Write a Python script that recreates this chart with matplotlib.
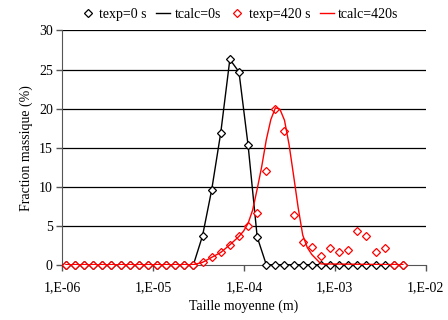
import matplotlib
matplotlib.use("Agg")
import matplotlib.pyplot as plt
from matplotlib.ticker import FixedLocator, FixedFormatter, NullLocator

plt.rcParams['font.family'] = ['Liberation Serif', 'DejaVu Serif']

# Particle sizes (m), sieve-like series
sizes = [1.09e-6, 1.373e-6, 1.730e-6, 2.18e-6, 2.747e-6, 3.461e-6, 4.36e-6, 5.493e-6,
         6.921e-6, 8.72e-6, 1.099e-5, 1.384e-5, 1.744e-5, 2.198e-5, 2.769e-5, 3.488e-5,
         4.395e-5, 5.538e-5, 6.976e-5, 8.79e-5, 1.108e-4, 1.396e-4, 1.758e-4, 2.216e-4,
         2.790e-4, 3.516e-4, 4.430e-4, 5.582e-4, 7.032e-4, 8.860e-4, 1.116e-3, 1.406e-3,
         1.772e-3, 2.232e-3, 2.812e-3, 3.544e-3, 4.465e-3, 5.626e-3]

texp0 = [0, 0, 0, 0, 0, 0, 0, 0, 0, 0, 0, 0, 0, 0, 0, 3.7, 9.55, 16.9, 26.3, 24.7,
         15.3, 3.55, 0, 0, 0, 0, 0, 0, 0, 0, 0, 0, 0, 0, 0, 0, 0, 0]
tcalc0 = [0, 0, 0, 0, 0, 0, 0, 0, 0, 0, 0, 0, 0, 0, 0, 3.7, 9.55, 16.9, 26.3, 24.7,
          15.3, 3.55, 0, 0, 0, 0, 0, 0, 0, 0, 0, 0, 0, 0, 0, 0, 0, 0]

texp420 = [0, 0, 0, 0, 0, 0, 0, 0, 0, 0, 0, 0, 0, 0, 0, 0.3, 0.94, 1.57, 2.55, 3.62,
           4.94, 6.64, 12.0, 20.0, 17.1, 6.34, 2.94, 2.3, 1.15, 2.13, 1.66, 1.83,
           4.34, 3.7, 1.57, 2.09, 0, 0]

# calculated curve (read at finer size steps)
calc420_sizes = [1.09e-6, 2.769e-5, 3.488e-5, 4.395e-5, 5.538e-5, 6.976e-5, 8.79e-5,
                 9.87e-5, 1.108e-4, 1.244e-4, 1.396e-4, 1.567e-4, 1.758e-4, 1.974e-4,
                 2.216e-4, 2.487e-4, 2.790e-4, 3.132e-4, 3.516e-4, 3.946e-4, 4.430e-4,
                 4.972e-4, 5.582e-4, 6.265e-4, 7.032e-4, 5.626e-3]
tcalc420 = [0, 0, 0.3, 0.94, 1.57, 2.55, 3.62,
            4.3, 5.3, 7.0, 9.7, 12.6, 16.0, 18.6,
            20.1, 19.9, 18.5, 15.4, 11.4, 7.3, 3.8,
            2.2, 1.3, 0.7, 0.1, 0]

legend_labels = ["texp=0 s", "tcalc=0s", "texp=420 s", "tcalc=420s"]
xtick_vals = [1e-6, 1e-5, 1e-4, 1e-3, 1e-2]
xtick_labels = ["1,E-06", "1,E-05", "1,E-04", "1,E-03", "1,E-02"]
ytick_vals = [0, 5, 10, 15, 20, 25, 30]

fig = plt.figure(figsize=(4.48, 3.2), dpi=100)
ax = fig.add_axes([0.1395, 0.1728, 0.8105, 0.7319])

ax.set_xscale('log')
ax.set_xlim(1e-6, 1e-2)
ax.set_ylim(0, 30)

for y in ytick_vals[1:]:
    ax.axhline(y, color='black', lw=0.9, zorder=1)

mk = dict(marker='D', markersize=4.5, markerfacecolor='white', markeredgewidth=0.9,
          linestyle='none', clip_on=False)
h1, = ax.plot(sizes, texp0, color='black', zorder=3, **mk)
h2, = ax.plot(sizes, tcalc0, color='black', lw=1.0, zorder=2)
h3, = ax.plot(sizes, texp420, color='red', zorder=4, **mk)
h4, = ax.plot(calc420_sizes, tcalc420, color='red', lw=1.0, zorder=5)

ax.xaxis.set_major_locator(FixedLocator(xtick_vals))
ax.xaxis.set_major_formatter(FixedFormatter(xtick_labels))
ax.xaxis.set_minor_locator(NullLocator())
ax.set_yticks(ytick_vals)

for s in ['top', 'right']:
    ax.spines[s].set_visible(False)
ax.spines['left'].set_color('#555555')
ax.spines['bottom'].set_color('#555555')
ax.tick_params(axis='both', direction='out', length=4, width=1, color='#555555',
               labelsize=10, pad=3)
ax.tick_params(axis='x', pad=8)

ax.set_xlabel("Taille moyenne (m)", fontsize=10, labelpad=4)
ax.set_ylabel("Fraction massique (%)", fontsize=10, labelpad=4)

fig.legend([h1, h2, h3, h4], legend_labels, loc='center', bbox_to_anchor=(0.535, 0.955),
           ncol=4, frameon=False, fontsize=10, handlelength=1.0, handletextpad=0.3,
           columnspacing=0.7, borderpad=0)

fig.savefig("out.png", dpi=100)
